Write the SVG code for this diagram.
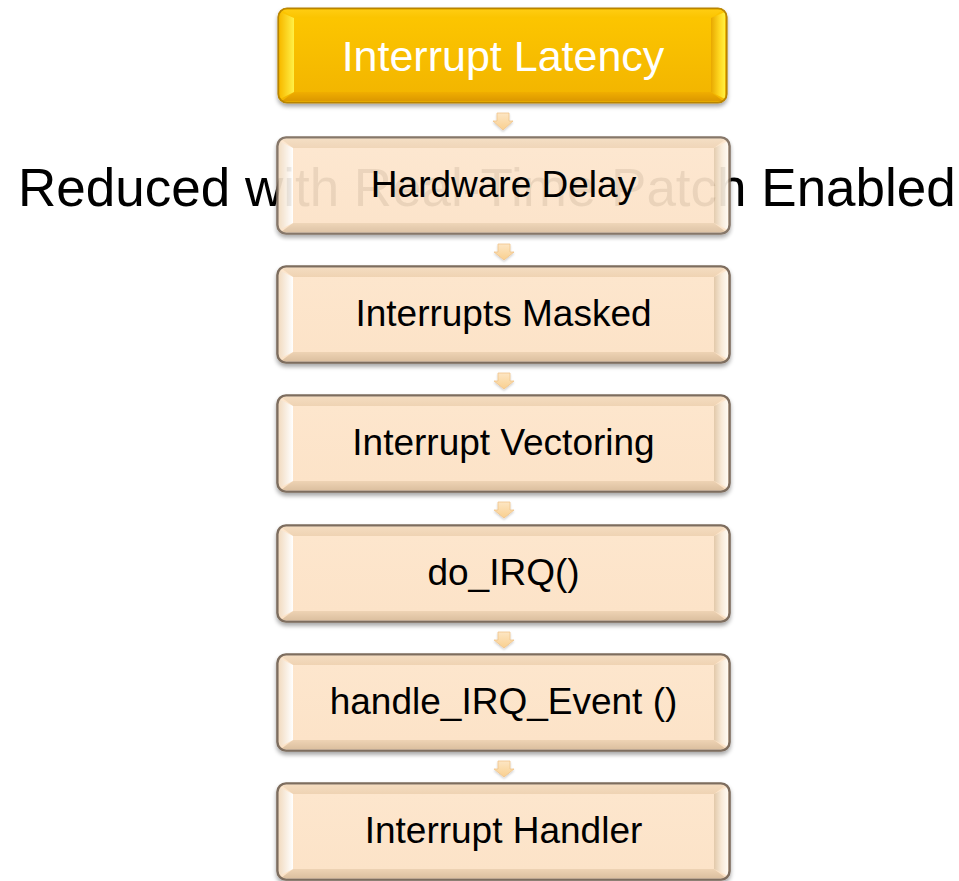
<svg xmlns="http://www.w3.org/2000/svg" xmlns:xlink="http://www.w3.org/1999/xlink" width="959" height="881" viewBox="0 0 959 881">
  <style>
    .lbl { font-family: "Liberation Sans", Arial, sans-serif; font-size: 37px; fill: #000; text-anchor: middle; }
    .title { font-family: "Liberation Sans", Arial, sans-serif; font-size: 43px; fill: #fff; text-anchor: middle; }
    .back { font-family: "Liberation Sans", Arial, sans-serif; font-size: 53px; fill: #000; }
    .arrow { fill: url(#arrowFill); stroke: #f0c48a; stroke-width: 0.8; }
  </style>
  <defs>
    <filter id="shadow" x="-5%" y="-10%" width="110%" height="130%">
      <feDropShadow dx="0" dy="3" stdDeviation="2.2" flood-color="#000" flood-opacity="0.35"/>
    </filter>
    <filter id="arrowShadow" x="-30%" y="-30%" width="160%" height="160%">
      <feDropShadow dx="0" dy="1.5" stdDeviation="1.2" flood-color="#000" flood-opacity="0.2"/>
    </filter>

    <!-- beige bevel gradients -->
    <linearGradient id="bFace" x1="0" y1="0" x2="0" y2="1">
      <stop offset="0" stop-color="#fde6cd"/>
      <stop offset="1" stop-color="#fce3c8"/>
    </linearGradient>
    <linearGradient id="bTop" x1="0" y1="0" x2="0" y2="1">
      <stop offset="0" stop-color="#f4dcc0"/>
      <stop offset="1" stop-color="#efd3b3"/>
    </linearGradient>
    <linearGradient id="bBottom" x1="0" y1="0" x2="0" y2="1">
      <stop offset="0" stop-color="#eed3b4"/>
      <stop offset="1" stop-color="#dcc0a0"/>
    </linearGradient>
    <linearGradient id="bLeft" x1="0" y1="0" x2="1" y2="0">
      <stop offset="0" stop-color="#f2dcc2"/>
      <stop offset="1" stop-color="#ffffff"/>
    </linearGradient>
    <linearGradient id="bRight" x1="0" y1="0" x2="1" y2="0">
      <stop offset="0" stop-color="#e2c9aa"/>
      <stop offset="0.55" stop-color="#f8ead8"/>
      <stop offset="1" stop-color="#fffaf2"/>
    </linearGradient>

    <!-- gold bevel gradients -->
    <linearGradient id="gFace" x1="0" y1="0" x2="0" y2="1">
      <stop offset="0" stop-color="#fcc500"/>
      <stop offset="1" stop-color="#f3b600"/>
    </linearGradient>
    <linearGradient id="gTop" x1="0" y1="0" x2="0" y2="1">
      <stop offset="0" stop-color="#ffcc10"/>
      <stop offset="1" stop-color="#fbc400"/>
    </linearGradient>
    <linearGradient id="gBottom" x1="0" y1="0" x2="0" y2="1">
      <stop offset="0" stop-color="#f0ae00"/>
      <stop offset="1" stop-color="#dc9800"/>
    </linearGradient>
    <linearGradient id="gLeft" x1="0" y1="0" x2="1" y2="0">
      <stop offset="0" stop-color="#f8bc00"/>
      <stop offset="1" stop-color="#fff048"/>
    </linearGradient>
    <linearGradient id="gRight" x1="0" y1="0" x2="1" y2="0">
      <stop offset="0" stop-color="#e8a800"/>
      <stop offset="0.6" stop-color="#ffd820"/>
      <stop offset="1" stop-color="#fff040"/>
    </linearGradient>

    <linearGradient id="arrowFill" x1="0" y1="0" x2="0" y2="1">
      <stop offset="0" stop-color="#fde6c4"/>
      <stop offset="1" stop-color="#f9cf8e"/>
    </linearGradient>

    <!-- beveled beige box, 453 x 97 -->
    <g id="bevelBox">
      <rect x="0" y="0" width="453" height="97" rx="9" fill="url(#bFace)" stroke="#7d6d5e" stroke-width="1.6" filter="url(#shadow)"/>
      <path d="M4,2 L449,2 L437,11 L16,11 Z" fill="url(#bTop)"/>
      <path d="M16,86 L437,86 L449,95 L4,95 Z" fill="url(#bBottom)"/>
      <path d="M2,4 L16,11 L16,86 L2,93 Z" fill="url(#bLeft)"/>
      <path d="M451,4 L437,11 L437,86 L451,93 Z" fill="url(#bRight)"/>
      <rect x="16" y="11" width="421" height="75" fill="url(#bFace)"/>
      <rect x="0.8" y="0.8" width="451.4" height="95.4" rx="8.5" fill="none" stroke="#7d6d5e" stroke-width="1.6"/>
    </g>
  </defs>

  <!-- caption running behind the second step -->
  <text class="back" x="18" y="206">Reduced with Real-Time Patch Enabled</text>

  <!-- connectors -->
  <g id="connectors" filter="url(#arrowShadow)">
    <path class="arrow" d="M497,113 L509,113 L509,121 L513,121 L503,130 L493,121 L497,121 Z"/>
    <path class="arrow" d="M498,244 L510,244 L510,252 L514,252 L504,260 L494,252 L498,252 Z"/>
    <path class="arrow" d="M498,373 L510,373 L510,381 L514,381 L504,389 L494,381 L498,381 Z"/>
    <path class="arrow" d="M498,502 L510,502 L510,510 L514,510 L504,518 L494,510 L498,510 Z"/>
    <path class="arrow" d="M498,632 L510,632 L510,640 L514,640 L504,648 L494,640 L498,640 Z"/>
    <path class="arrow" d="M498,761 L510,761 L510,769 L514,769 L504,777 L494,769 L498,769 Z"/>
  </g>

  <!-- title step -->
  <g id="node-latency">
    <rect x="278" y="8" width="449" height="95" rx="9" fill="url(#gFace)" stroke="#b88400" stroke-width="1.2" filter="url(#shadow)"/>
    <path d="M282,10 L723,10 L711,18 L294,18 Z" fill="url(#gTop)"/>
    <path d="M294,92 L711,92 L723,101 L282,101 Z" fill="url(#gBottom)"/>
    <path d="M280,12 L294,18 L294,92 L280,99 Z" fill="url(#gLeft)"/>
    <path d="M725,12 L711,18 L711,92 L725,99 Z" fill="url(#gRight)"/>
    <rect x="294" y="18" width="417" height="74" fill="url(#gFace)"/>
    <rect x="278.6" y="8.6" width="447.8" height="93.8" rx="8.5" fill="none" stroke="#b88400" stroke-width="1.2"/>
    <text class="title" x="503" y="71">Interrupt Latency</text>
  </g>

  <g id="node-hardware-delay">
    <use xlink:href="#bevelBox" x="277" y="137" opacity="0.93"/>
    <text class="lbl" x="503.5" y="197">Hardware Delay</text>
  </g>

  <g id="node-interrupts-masked">
    <use xlink:href="#bevelBox" x="277" y="266"/>
    <text class="lbl" x="503.5" y="326">Interrupts Masked</text>
  </g>

  <g id="node-interrupt-vectoring">
    <use xlink:href="#bevelBox" x="277" y="395"/>
    <text class="lbl" x="503.5" y="455">Interrupt Vectoring</text>
  </g>

  <g id="node-do-irq">
    <use xlink:href="#bevelBox" x="277" y="525"/>
    <text class="lbl" x="503.5" y="585">do_IRQ()</text>
  </g>

  <g id="node-handle-irq-event">
    <use xlink:href="#bevelBox" x="277" y="654"/>
    <text class="lbl" x="503.5" y="714">handle_IRQ_Event ()</text>
  </g>

  <g id="node-interrupt-handler">
    <use xlink:href="#bevelBox" x="277" y="783"/>
    <text class="lbl" x="503.5" y="843">Interrupt Handler</text>
  </g>
</svg>
